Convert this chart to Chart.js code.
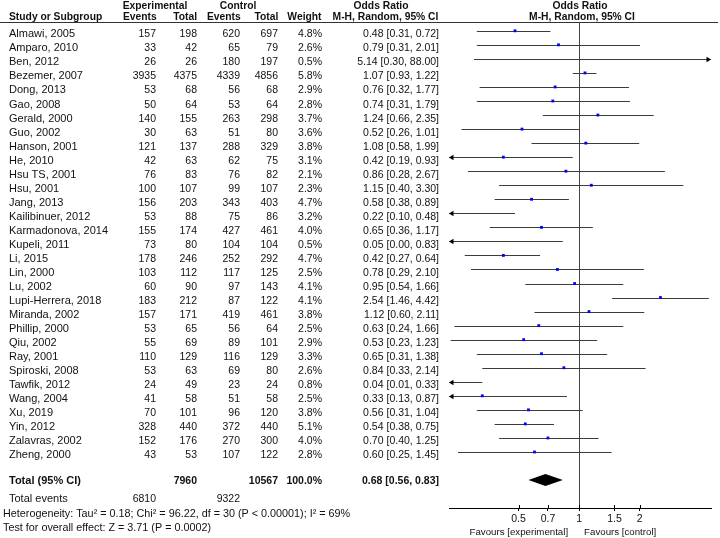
<!DOCTYPE html>
<html>
<head>
<meta charset="utf-8">
<script src="https://cdn.jsdelivr.net/npm/chart.js@4.4.0/dist/chart.umd.min.js"></script>
<style>
  html, body { margin: 0; padding: 0; background: #fff; }
  canvas { display: block; }
</style>
</head>
<body>
<canvas id="forest" width="720" height="538"></canvas>
<script>
const studies = [
  "Almawi, 2005", "Amparo, 2010", "Ben, 2012", "Bezemer, 2007", "Dong, 2013",
  "Gao, 2008", "Gerald, 2000", "Guo, 2002", "Hanson, 2001", "He, 2010",
  "Hsu TS, 2001", "Hsu, 2001", "Jang, 2013", "Kailibinuer, 2012", "Karmadonova, 2014",
  "Kupeli, 2011", "Li, 2015", "Lin, 2000", "Lu, 2002", "Lupi-Herrera, 2018",
  "Miranda, 2002", "Phillip, 2000", "Qiu, 2002", "Ray, 2001", "Spiroski, 2008",
  "Tawfik, 2012", "Wang, 2004", "Xu, 2019", "Yin, 2012", "Zalavras, 2002", "Zheng, 2000"
];
const expEvents = [157, 33, 26, 3935, 53, 50, 140, 30, 121, 42, 76, 100, 156, 53, 155, 73, 178, 103, 60, 183, 157, 53, 55, 110, 53, 24, 41, 70, 328, 152, 43];
const expTotals = [198, 42, 26, 4375, 68, 64, 155, 63, 137, 63, 83, 107, 203, 88, 174, 80, 246, 112, 90, 212, 171, 65, 69, 129, 63, 49, 58, 101, 440, 176, 53];
const ctrlEvents = [620, 65, 180, 4339, 56, 53, 263, 51, 288, 62, 76, 99, 343, 75, 427, 104, 252, 117, 97, 87, 419, 56, 89, 116, 69, 23, 51, 96, 372, 270, 107];
const ctrlTotals = [697, 79, 197, 4856, 68, 64, 298, 80, 329, 75, 82, 107, 403, 86, 461, 104, 292, 125, 143, 122, 461, 64, 101, 129, 80, 24, 58, 120, 440, 300, 122];
const weights = [4.8, 2.6, 0.5, 5.8, 2.9, 2.8, 3.7, 3.6, 3.8, 3.1, 2.1, 2.3, 4.7, 3.2, 4.0, 0.5, 4.7, 2.5, 4.1, 4.1, 3.8, 2.5, 2.9, 3.3, 2.6, 0.8, 2.5, 3.8, 5.1, 4.0, 2.8];
const oddsRatios = [0.48, 0.79, 5.14, 1.07, 0.76, 0.74, 1.24, 0.52, 1.08, 0.42, 0.86, 1.15, 0.58, 0.22, 0.65, 0.05, 0.42, 0.78, 0.95, 2.54, 1.12, 0.63, 0.53, 0.65, 0.84, 0.04, 0.33, 0.56, 0.54, 0.70, 0.60];
const ciLower = [0.31, 0.31, 0.30, 0.93, 0.32, 0.31, 0.66, 0.26, 0.58, 0.19, 0.28, 0.40, 0.38, 0.10, 0.36, 0.00, 0.27, 0.29, 0.54, 1.46, 0.60, 0.24, 0.23, 0.31, 0.33, 0.01, 0.13, 0.31, 0.38, 0.40, 0.25];
const ciUpper = [0.72, 2.01, 88.00, 1.22, 1.77, 1.79, 2.35, 1.01, 1.99, 0.93, 2.67, 3.30, 0.89, 0.48, 1.17, 0.83, 0.64, 2.10, 1.66, 4.42, 2.11, 1.66, 1.23, 1.38, 2.14, 0.33, 0.87, 1.04, 0.75, 1.25, 1.45];
const pooled = [0.68, 0.56, 0.83];      // OR, lower, upper
const totals = [7960, 10567];           // experimental, control
const totalEvents = [6810, 9322];       // experimental, control
const xTicks = [0.5, 0.7, 1, 1.5, 2];

const FONT = '"Liberation Sans", Arial, Helvetica, sans-serif';
const INK = '#111';
const totalRow = studies.length + 1;

const fmtCI = (o, l, u) => o.toFixed(2) + ' [' + l.toFixed(2) + ', ' + u.toFixed(2) + ']';

function put(ctx, s, x, y, align, font) {
  ctx.font = font;
  ctx.textAlign = align;
  ctx.fillText(s, x, y);
}

function arrow(ctx, px, py, dir) {
  ctx.beginPath();
  ctx.moveTo(px, py);
  ctx.lineTo(px - dir * 4.5, py - 2.8);
  ctx.lineTo(px - dir * 4.5, py + 2.8);
  ctx.closePath();
  ctx.fill();
}

const forestPlugin = {
  id: 'forest',
  beforeDatasetsDraw(chart) {
    const { ctx, chartArea: a, scales: { x, y } } = chart;
    ctx.save();

    // line of no effect
    const x1 = Math.round(x.getPixelForValue(1)) + 0.5;
    ctx.strokeStyle = '#444';
    ctx.lineWidth = 1;
    ctx.beginPath();
    ctx.moveTo(x1, a.top);
    ctx.lineTo(x1, a.bottom);
    ctx.stroke();

    // upper half of the axis tick marks
    x.ticks.forEach(t => {
      const px = Math.round(x.getPixelForValue(t.value)) + 0.5;
      ctx.strokeStyle = '#000';
      ctx.beginPath();
      ctx.moveTo(px, a.bottom - 3);
      ctx.lineTo(px, a.bottom);
      ctx.stroke();
    });

    // confidence intervals
    ctx.strokeStyle = '#3c3c3c';
    ctx.fillStyle = '#000';
    oddsRatios.forEach((or, i) => {
      const py = Math.round(y.getPixelForValue(i)) + 0.5;
      const leftOut = ciLower[i] < x.min;
      const rightOut = ciUpper[i] > x.max;
      const p0 = leftOut ? a.left : x.getPixelForValue(ciLower[i]);
      const p1 = rightOut ? a.right : x.getPixelForValue(ciUpper[i]);
      ctx.beginPath();
      ctx.moveTo(p0, py);
      ctx.lineTo(p1, py);
      ctx.stroke();
      if (leftOut) arrow(ctx, p0, py, -1);
      if (rightOut) arrow(ctx, p1, py, 1);
    });

    // pooled diamond
    const dy = y.getPixelForValue(totalRow);
    ctx.beginPath();
    ctx.moveTo(x.getPixelForValue(pooled[1]), dy);
    ctx.lineTo(x.getPixelForValue(pooled[0]), dy - 6);
    ctx.lineTo(x.getPixelForValue(pooled[2]), dy);
    ctx.lineTo(x.getPixelForValue(pooled[0]), dy + 6);
    ctx.closePath();
    ctx.fill();
    ctx.restore();
  },
  afterDraw(chart) {
    const { ctx, scales: { x, y } } = chart;
    ctx.save();
    ctx.fillStyle = INK;
    ctx.textBaseline = 'alphabetic';
    const head = 'bold 10.3px ' + FONT;
    const name = '11px ' + FONT;
    const num = '10.5px ' + FONT;

    // header
    put(ctx, 'Experimental', 155, 8.8, 'center', head);
    put(ctx, 'Control', 238, 8.8, 'center', head);
    put(ctx, 'Odds Ratio', 381, 8.8, 'center', head);
    put(ctx, 'Odds Ratio', 580, 8.8, 'center', head);
    put(ctx, 'Study or Subgroup', 9, 20.3, 'left', head);
    put(ctx, 'Events', 156.7, 20.3, 'right', head);
    put(ctx, 'Total', 197, 20.3, 'right', head);
    put(ctx, 'Events', 240.7, 20.3, 'right', head);
    put(ctx, 'Total', 278.3, 20.3, 'right', head);
    put(ctx, 'Weight', 321.5, 20.3, 'right', head);
    put(ctx, 'M-H, Random, 95% CI', 385.5, 20.3, 'center', head);
    put(ctx, 'M-H, Random, 95% CI', 582, 20.3, 'center', head);
    ctx.strokeStyle = '#333';
    ctx.lineWidth = 1;
    ctx.beginPath();
    ctx.moveTo(0, 22.5);
    ctx.lineTo(718, 22.5);
    ctx.stroke();

    // study rows
    studies.forEach((s, i) => {
      const by = y.getPixelForValue(i) + 6.5;
      put(ctx, s, 9, by, 'left', name);
      put(ctx, String(expEvents[i]), 156, by, 'right', num);
      put(ctx, String(expTotals[i]), 197, by, 'right', num);
      put(ctx, String(ctrlEvents[i]), 240, by, 'right', num);
      put(ctx, String(ctrlTotals[i]), 278, by, 'right', num);
      put(ctx, weights[i].toFixed(1) + '%', 322, by, 'right', num);
      put(ctx, fmtCI(oddsRatios[i], ciLower[i], ciUpper[i]), 439, by, 'right', num);
    });

    // totals
    const ty = y.getPixelForValue(totalRow) + 4;
    const bold = 'bold 10.5px ' + FONT;
    put(ctx, 'Total (95% CI)', 9, ty, 'left', 'bold 11px ' + FONT);
    put(ctx, String(totals[0]), 197, ty, 'right', bold);
    put(ctx, String(totals[1]), 278, ty, 'right', bold);
    put(ctx, '100.0%', 322, ty, 'right', bold);
    put(ctx, fmtCI(pooled[0], pooled[1], pooled[2]), 439, ty, 'right', bold);

    put(ctx, 'Total events', 9, 502, 'left', name);
    put(ctx, String(totalEvents[0]), 156, 502, 'right', num);
    put(ctx, String(totalEvents[1]), 240, 502, 'right', num);
    put(ctx, 'Heterogeneity: Tau\u00b2 = 0.18; Chi\u00b2 = 96.22, df = 30 (P < 0.00001); I\u00b2 = 69%', 3, 516.5, 'left', '10.8px ' + FONT);
    put(ctx, 'Test for overall effect: Z = 3.71 (P = 0.0002)', 3, 530.5, 'left', '10.8px ' + FONT);

    // favours labels
    const x1 = x.getPixelForValue(1);
    put(ctx, 'Favours [experimental]', x1 - 11, 535.3, 'right', '9.7px ' + FONT);
    put(ctx, 'Favours [control]', x1 + 5, 535.3, 'left', '9.7px ' + FONT);
    ctx.restore();
  }
};

new Chart(document.getElementById('forest').getContext('2d'), {
  type: 'scatter',
  data: {
    datasets: [{
      data: oddsRatios.map((v, i) => ({ x: v, y: i })),
      pointStyle: 'rect',
      pointRadius: 2,
      pointHoverRadius: 2,
      backgroundColor: '#0000ff',
      borderWidth: 0,
      clip: 0
    }]
  },
  options: {
    responsive: false,
    animation: false,
    devicePixelRatio: 1,
    layout: { padding: { left: 449, right: 9, top: 23, bottom: 0 } },
    plugins: { legend: { display: false }, tooltip: { enabled: false } },
    scales: {
      x: {
        type: 'logarithmic',
        min: 0.2254,
        max: 4.53,
        afterFit: s => { s.height = 30; },
        afterBuildTicks: s => { s.ticks = xTicks.map(v => ({ value: v })); },
        ticks: {
          callback: v => String(v),
          color: INK,
          font: { family: FONT, size: 10.5 },
          padding: 2,
          autoSkip: false,
          maxRotation: 0
        },
        grid: { display: true, drawOnChartArea: false, drawTicks: true, tickLength: 3, color: '#000' },
        border: { display: true, color: '#000', width: 1 }
      },
      y: {
        type: 'linear',
        reverse: true,
        min: -0.556,
        max: 33.99,
        display: false
      }
    }
  },
  plugins: [forestPlugin]
});
</script>
</body>
</html>
